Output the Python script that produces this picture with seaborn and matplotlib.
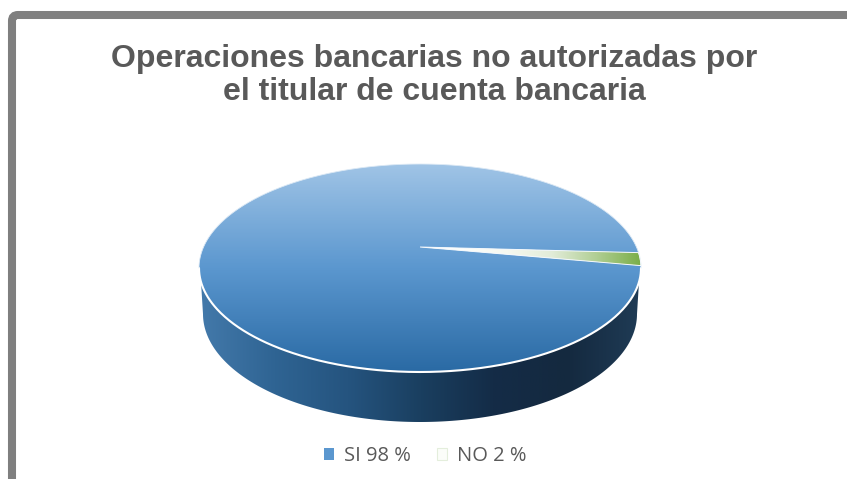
import numpy as np
import matplotlib
matplotlib.use("Agg")
import matplotlib.pyplot as plt
from matplotlib.patches import FancyBboxPatch, Patch, Polygon
from matplotlib.transforms import IdentityTransform
import seaborn as sns

# Survey answers, in percent
categories = ["SI", "NO"]
shares = [98, 2]
title_text = "Operaciones bancarias no autorizadas por\nel titular de cuenta bancaria"

W, H = 847, 479

# Disc geometry in pixels
CX, CY, RX, RY = 420, 268, 221, 104
APEX_Y = 247
BASE_CY, BASE_RX, BASE_RY = 314, 217, 108
SIDE_TOP_Y = 282


def px(x, y):
    """Pixel position to pie data coordinates."""
    return (x - CX) / RX, (CY - y) / RY


sns.set_theme(style="white")
plt.rcParams["font.family"] = ["Liberation Sans", "DejaVu Sans"]

fig = plt.figure(figsize=(W / 100, H / 100), dpi=100, facecolor="white")
ax = fig.add_axes([0, 0, 1, 1])

wedges, _ = ax.pie(shares, startangle=8.5, radius=1, center=(0, 0))
for w in wedges:
    w.set_visible(False)

ax.set_aspect("auto")
ax.set_xlim(px(0, 0)[0], px(W, 0)[0])
ax.set_ylim(px(0, H)[1], px(0, 0)[1])
ax.axis("off")


def gradient_fill(poly, stops, horizontal, zorder):
    """Paint a polygon with a linear gradient running through the colour stops."""
    cmap = sns.blend_palette(stops, n_colors=256, as_cmap=True)
    ramp = np.linspace(0, 1, 256)
    data = ramp[None, :] if horizontal else ramp[:, None]
    xy = poly.get_xy()
    x0, x1 = xy[:, 0].min(), xy[:, 0].max()
    y0, y1 = xy[:, 1].min(), xy[:, 1].max()
    ax.add_patch(poly)
    poly.set(facecolor="none", edgecolor="none", zorder=zorder)
    im = ax.imshow(data, cmap=cmap, extent=(x0, x1, y0, y1), aspect="auto",
                   interpolation="bilinear", zorder=zorder)
    im.set_clip_path(poly)


def slice_polygon(wedge):
    """Outline of one slice, with its tip on the tilted disc's visual centre."""
    angles = np.radians(np.linspace(wedge.theta1, wedge.theta2, 400))
    arc = np.column_stack([np.cos(angles), np.sin(angles)])
    apex = np.array([[0, px(CX, APEX_Y)[1]]])
    return np.vstack([apex, arc])


# Side wall of the disc
t = np.radians(np.linspace(180, 360, 200))
base = np.array([px(CX + BASE_RX * np.cos(a), BASE_CY - BASE_RY * np.sin(a)) for a in t])
side_left = px(CX - RX + 2, SIDE_TOP_Y)
side_right = px(CX + RX - 2, SIDE_TOP_Y)
side = Polygon(np.vstack([[side_left], base, [side_right]]), closed=True)
gradient_fill(side, ["#4379AA", "#2F6493", "#25547F", "#1A3F60", "#142C47", "#14293F", "#1F3B55"],
              horizontal=True, zorder=1)

# Top face: the large slice, then the small one
top_big = Polygon(slice_polygon(wedges[0]), closed=True)
gradient_fill(top_big, ["#A0C4E6", "#5B97CF", "#2A6AA4"], horizontal=False, zorder=2)

top_small = Polygon(slice_polygon(wedges[1]), closed=True)
gradient_fill(top_small, ["#FFFFFF", "#FDFEFB", "#F5F8F0", "#E2ECD8", "#B0CE94", "#7AAE48"],
              horizontal=True, zorder=3)

# White rims
ang = np.radians(np.linspace(180, 360, 400))
ax.plot(np.cos(ang), np.sin(ang), color="white", lw=1.5, zorder=4)
ang = np.radians(np.linspace(0, 180, 400))
ax.plot(np.cos(ang), np.sin(ang), color="#DCE9F5", lw=0.6, zorder=4)
ax.add_patch(Polygon(slice_polygon(wedges[1]), closed=True, facecolor="none",
                     edgecolor="#F4F8FC", lw=0.7, zorder=4))

# Frame running off the right and bottom edges
frame = FancyBboxPatch((12, -30), 900, H - 15 + 30, boxstyle="round,pad=0,rounding_size=6",
                       facecolor="none", edgecolor="#7F7F7F", lw=5.8,
                       transform=IdentityTransform())
fig.add_artist(frame)

fig.text(434 / W, 1 - 75.5 / H, title_text, ha="center", va="center", color="#595959",
         fontsize=23, fontweight="bold", linespacing=1.17)

# Legend with small square swatches
handles = [Patch(facecolor="#5B97CF", edgecolor="#5B97CF", lw=0),
           Patch(facecolor="#FBFDF9", edgecolor="#E4EEDC", lw=0.8)]
labels = [f"{c} {v} %" for c, v in zip(categories, shares)]
fig.legend(handles, labels, loc="center", bbox_to_anchor=(425 / W, 1 - 456 / H), ncol=2,
           frameon=False, handlelength=0.5, handleheight=0.5, handletextpad=0.5,
           columnspacing=1.3, prop={"family": "Open Sans", "size": 14.5}, labelcolor="#595959")

fig.savefig("out.png", dpi=100)
